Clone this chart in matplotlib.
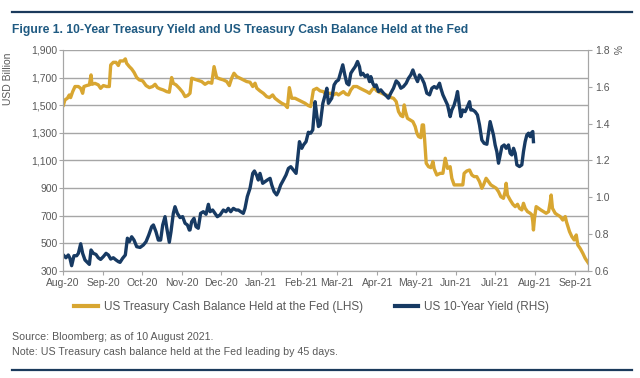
import pandas as pd
import matplotlib
matplotlib.use("Agg")
import matplotlib.pyplot as plt
from matplotlib.lines import Line2D

plt.rcParams['font.family'] = ['Liberation Sans', 'DejaVu Sans']

# days since 1 Aug 2020 (cash balance already shifted forward 45 days)
cash_days = [0.3, 1.5, 3.4, 4.9, 5.9, 7.5, 9.3, 11.9, 13.7, 15.2, 16.2, 18.3, 20.4, 21.7, 22.4,
             24.7, 27.3, 29.1, 31.2, 33.8, 35.8, 36.9, 38.9, 41, 42.8, 44.1, 46.7, 48.2, 49.2,
             51.3, 53.1, 54.9, 57, 59, 61.6, 64.2, 66.8, 69.3, 71.2, 73, 75, 77.6, 80.2, 82.2,
             84, 85.3, 87.4, 90, 92.5, 94.4, 96.4,
             98.2, 99.5, 103.4, 107.2, 109.8, 112.4, 115, 116.8, 118.8, 121.4, 124, 126.6,
             128.6, 130.4, 132.2, 134.3, 136.9, 139.4, 142, 144.6, 146.7, 148.5, 149.8, 152.3,
             154.9, 157.5, 159.6, 162.1, 163.9, 166.5, 169.1, 171.7, 173.5, 175, 176.8, 179.4,
             182, 184.6, 187.1, 189.7, 191.5, 193.6, 196.2,
             198.8, 201.4, 203.4, 205.2, 207.1, 209.1, 211.2, 213, 214.8, 216.8, 218.9, 220.7,
             222.5, 224.6, 227.2, 229.7, 232.3, 234.9, 237, 238.8, 240.6, 242.6, 244.7, 246.5,
             249.1, 251.6, 253.5, 255.5, 257.6, 259.4, 261.2, 262.7, 263.8, 264.8, 266.3, 268.4,
             270.5, 272.3, 273.6, 274.9, 276.7, 277.7, 278.7, 279.5, 280.8, 282.6, 284.4, 286,
             287, 289, 291.6, 293.7, 295.5, 297.3,
             299.3, 300.6, 302.4, 304.4, 307, 309.1, 310.1, 312.2, 314.3, 316.1, 317.9, 319.9,
             322, 323.8, 325.1, 327.1, 328.9, 330.8, 332.8, 334.9, 336.7, 338.5, 340.5, 341.8,
             342.6, 343.6, 345.7, 347.8, 349.6, 351.4, 352.9, 354.7, 356, 357.3, 359.1, 361.2,
             362.5, 363.2, 363.7, 364.5, 365.8, 367.6, 369.4, 371.5, 373.5, 375.4, 376.7, 377.4,
             378.4, 380.5, 382.3, 384.4, 386.4, 388.3, 389.2, 391.6, 393.4, 395.2, 396.8, 398,
             399.8, 401.9, 403.7, 406.3]
cash_vals = [1500, 1538, 1550, 1574, 1555, 1598, 1635, 1635, 1622, 1586, 1635, 1642, 1647, 1719, 1651,
             1658, 1647, 1622, 1642, 1635, 1635, 1791, 1810, 1810, 1787, 1820, 1820, 1835, 1803,
             1779, 1762, 1738, 1700, 1683, 1676, 1642, 1627, 1635, 1651, 1627, 1618, 1610, 1598, 1594,
             1700, 1658, 1647, 1622, 1594, 1562, 1570,
             1586, 1695, 1683, 1671, 1651, 1666, 1659, 1779, 1700, 1690, 1683, 1671,
             1642, 1695, 1731, 1707, 1695, 1683, 1671, 1666, 1635, 1659, 1623, 1603,
             1586, 1562, 1555, 1574, 1550, 1531, 1514, 1502, 1483, 1627, 1550, 1550,
             1538, 1526, 1514, 1497, 1490, 1610, 1622,
             1603, 1598, 1574, 1586, 1586, 1574, 1586, 1574, 1586, 1598, 1579, 1574,
             1610, 1635, 1635, 1622, 1610, 1598, 1586, 1610, 1627, 1603, 1594, 1586,
             1574, 1570, 1555, 1550, 1526, 1454, 1425, 1417, 1502, 1454, 1405, 1393,
             1381, 1345, 1297, 1273, 1265, 1357, 1357, 1261, 1080, 1055, 1048, 1092,
             1039, 995, 1007, 1007, 1116, 1043,
             1055, 971, 923, 923, 923, 923, 1007, 1024, 1031, 995, 983, 983,
             947, 899, 923, 971, 947, 923, 911, 899, 874, 838, 826, 874,
             935, 850, 814, 783, 766, 783, 754, 742, 790, 754, 730, 718,
             706, 657, 597, 681, 766, 754, 742, 730, 718, 730, 802, 850,
             754, 718, 706, 694, 669, 694, 657, 585, 549, 525, 561, 488,
             464, 428, 392, 356]

yield_days = [0.8, 2.3, 4.1, 5.4, 6.7, 8.5, 10.6, 11.9, 13.7, 15.2, 17, 18.3, 20.4, 21.7, 23.5,
              25.5, 27.3, 29.1, 31.2, 33.3, 35.1, 36.9, 38.9, 41, 42.8, 44.1, 46.1, 48.2, 49.8,
              51.3, 53.1, 54.9, 57, 59.6, 62.1, 64.2, 66.3, 68.6, 69.9, 71.9, 73.7, 75.5, 77.1,
              78.9, 80.2, 82.2, 83.5, 85.3, 86.6, 88.4, 90.5, 92.5, 94.4, 96.2, 97.7,
              98.2, 99.5, 101.3, 102.8, 104.6, 106.4, 108.5, 110.6, 112.4, 113.7, 115.7, 117.5,
              119.3, 121.4, 124, 126, 127.8, 129.7, 131.7, 133.8, 135.6, 137.4, 139.4, 140.7,
              142.5, 144.6, 146.7, 148, 149.8, 151, 152.3, 154.4, 156.2, 158, 160.1, 161.4,
              163.2, 165.2, 166.5, 168.3, 170.4, 172.4, 174.3, 176.1, 178.1, 180.2, 181.2, 182.8,
              184.6, 185.9, 187.9, 189.7, 191.5, 193.1, 194.9, 196.2, 197.5,
              198.8, 200.9, 202.7, 204, 205.2, 207.8, 209.6, 211.2, 213, 214.8, 216.3, 217.9,
              219.4, 221, 222.5, 224.1, 225.9, 227.7, 229.2, 230.3, 231.8, 233.6, 235.4, 237,
              238, 239.5, 240.8, 242.1, 243.9, 245.7, 247.8, 249.8, 251.6, 253.4, 255.5, 257.6,
              259.4, 261.2, 263.2, 265.3, 267.1, 268.9, 270.5, 272.3, 274.1, 275.6, 277.4, 279.2,
              281.3, 283.4, 285.2, 287, 289, 291.1, 292.1, 293.7, 295.5, 297.3,
              299.3, 300.6, 302.4, 303.9, 305, 306.5, 307.6, 309.1, 310.9, 312.7, 314.3, 315.3,
              316.8, 318.6, 320.4, 322, 323.8, 325.6, 327.7, 328.9, 330.2, 331.5, 332.8, 334.1,
              335.4, 336.7, 338, 339.3, 341.1, 342.6, 344.4, 345.7, 347, 348.3, 349.6, 350.9,
              352.9, 354.7, 356, 357.3, 358.6, 359.9, 361.2, 362.5, 363.2, 363.7]
yield_vals = [0.683, 0.672, 0.687, 0.669, 0.629, 0.683, 0.683, 0.696, 0.748, 0.696, 0.66, 0.651, 0.636, 0.714, 0.696,
              0.69, 0.672, 0.663, 0.678, 0.696, 0.687, 0.665, 0.672, 0.66, 0.651, 0.647, 0.669, 0.687, 0.778,
              0.759, 0.786, 0.768, 0.732, 0.728, 0.741, 0.759, 0.795, 0.841, 0.85, 0.813, 0.768, 0.768, 0.85,
              0.895, 0.835, 0.756, 0.813, 0.913, 0.949, 0.913, 0.89, 0.895, 0.859, 0.85, 0.822,
              0.823, 0.868, 0.886, 0.841, 0.832, 0.913, 0.922, 0.908, 0.962, 0.922, 0.931, 0.913,
              0.895, 0.904, 0.931, 0.922, 0.94, 0.922, 0.94, 0.931, 0.931, 0.922, 0.913, 0.94,
              1.004, 1.049, 1.13, 1.143, 1.118, 1.094, 1.13, 1.076, 1.085, 1.094, 1.103, 1.067,
              1.031, 1.013, 1.031, 1.067, 1.094, 1.121, 1.157, 1.166, 1.148, 1.13, 1.194, 1.302,
              1.266, 1.284, 1.302, 1.353, 1.348, 1.366, 1.519, 1.447, 1.384,
              1.393, 1.51, 1.556, 1.592, 1.51, 1.538, 1.61, 1.628, 1.637, 1.682, 1.719, 1.664,
              1.619, 1.61, 1.673, 1.691, 1.709, 1.737, 1.709, 1.664, 1.673, 1.655, 1.664, 1.628,
              1.655, 1.619, 1.601, 1.61, 1.574, 1.583, 1.565, 1.552, 1.538, 1.565, 1.592, 1.632,
              1.619, 1.592, 1.601, 1.619, 1.646, 1.664, 1.691, 1.655, 1.628, 1.664, 1.646, 1.619,
              1.565, 1.556, 1.592, 1.601, 1.592, 1.619, 1.592, 1.556, 1.528, 1.501,
              1.438, 1.474, 1.501, 1.538, 1.574, 1.492, 1.438, 1.474, 1.465, 1.492, 1.519, 1.474,
              1.474, 1.465, 1.447, 1.393, 1.311, 1.293, 1.288, 1.348, 1.411, 1.375, 1.338, 1.284,
              1.248, 1.185, 1.23, 1.275, 1.284, 1.266, 1.284, 1.239, 1.23, 1.266, 1.239, 1.176,
              1.167, 1.176, 1.248, 1.302, 1.338, 1.348, 1.329, 1.353, 1.357, 1.302]

start = pd.Timestamp("2020-08-01")
months = pd.date_range("2020-08-01", "2021-09-01", freq="MS")
month_days = [(m - start).days for m in months]
month_labels = [m.strftime("%b-%y") for m in months]

left_ticks = list(range(300, 2000, 200))
right_ticks = [0.6, 0.8, 1.0, 1.2, 1.4, 1.6, 1.8]

gold = "#D8A631"
navy = "#173A63"
grey = "#595959"
gridc = "#A6A6A6"

fig = plt.figure(figsize=(6.4, 3.78), dpi=100)
ax = fig.add_axes([0.0984, 0.283, 0.8206, 0.585])
ax2 = ax.twinx()

ax.plot(cash_days, cash_vals, color=gold, lw=2.4, solid_joinstyle="round")
ax2.plot(yield_days, yield_vals, color=navy, lw=2.4, solid_joinstyle="round")

ax.set_xlim(0, 406)
ax.set_ylim(300, 1900)
ax2.set_ylim(0.6, 1.8)

ax.set_yticks(left_ticks)
ax.set_yticklabels([f"{v:,}" for v in left_ticks])
ax2.set_yticks(right_ticks)
ax2.set_yticklabels([f"{v:.1f}" for v in right_ticks])
ax.set_xticks(month_days)
ax.set_xticklabels(month_labels)

ax.grid(axis="y", color=gridc, lw=1.0)
ax.set_axisbelow(True)
for a in (ax, ax2):
    a.spines["top"].set_visible(False)
    a.spines["left"].set_color(gridc)
    a.spines["right"].set_color(gridc)
    a.spines["bottom"].set_color(gridc)
    a.tick_params(colors=grey, labelsize=7.5, length=3, width=0.8)
ax.tick_params(axis="x", pad=2)
ax.tick_params(axis="x", colors=gridc, labelcolor=grey)
ax.tick_params(axis="y", colors=gridc, labelcolor=grey, pad=1)
ax2.tick_params(axis="y", colors=gridc, labelcolor=grey, pad=2)

ax.set_ylabel("USD Billion", color=grey, fontsize=7.5, labelpad=2)
ax.yaxis.set_label_coords(-0.095, 0.87)
fig.text(0.962, 0.868, "%", rotation=270, color=grey, fontsize=7.5, ha="center", va="center")

# title and rules
fig.add_artist(Line2D([0.019, 0.988], [0.968, 0.968], color="#1B3A5C", lw=1.6))
fig.add_artist(Line2D([0.019, 0.988], [0.022, 0.022], color="#1B3A5C", lw=1.6))
fig.text(0.019, 0.92, "Figure 1. 10-Year Treasury Yield and US Treasury Cash Balance Held at the Fed",
         color="#1F5A82", fontsize=8.7, fontweight="bold", va="center", ha="left")

handles = [Line2D([], [], color=gold, lw=3), Line2D([], [], color=navy, lw=3)]
fig.legend(handles, ["US Treasury Cash Balance Held at the Fed (LHS)", "US 10-Year Yield (RHS)"],
           loc="center", bbox_to_anchor=(0.487, 0.188), ncol=2, frameon=False,
           fontsize=8.5, labelcolor=grey, handlelength=2.0, handletextpad=0.5, columnspacing=2.7)

fig.text(0.019, 0.108, "Source: Bloomberg; as of 10 August 2021.", color=grey, fontsize=7.7, va="center")
fig.text(0.019, 0.068, "Note: US Treasury cash balance held at the Fed leading by 45 days.",
         color=grey, fontsize=7.7, va="center")

fig.savefig("out.png", dpi=100)
